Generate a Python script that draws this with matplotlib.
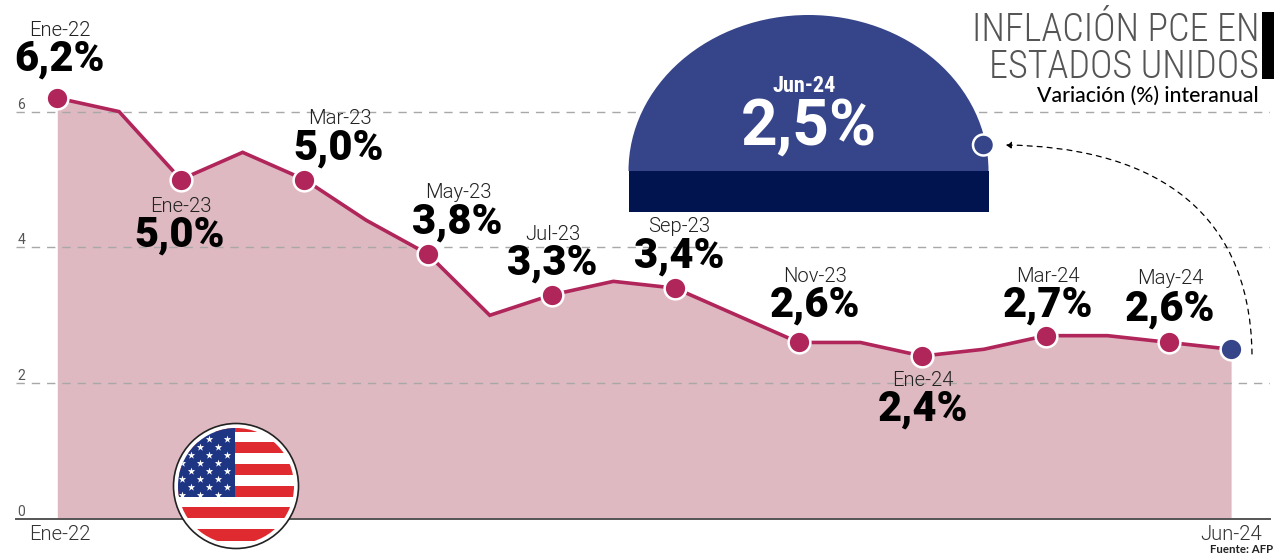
import matplotlib
matplotlib.use("Agg")
import matplotlib.pyplot as plt
from matplotlib.patches import Circle, Ellipse, Rectangle, FancyArrowPatch
from matplotlib.path import Path
from matplotlib.transforms import ScaledTranslation

W, H = 1274, 555
months = list(range(20))
values = [6.2, 6.0, 5.0, 5.4, 5.0, 4.4, 3.9, 3.0, 3.3, 3.5, 3.4, 3.0, 2.6, 2.6, 2.4, 2.5, 2.7, 2.7, 2.6, 2.5]
marked = [0, 2, 4, 6, 8, 10, 12, 14, 16, 18]
marked_dates = ["Ene-22", "Ene-23", "Mar-23", "May-23", "Jul-23", "Sep-23", "Nov-23", "Ene-24", "Mar-24", "May-24"]
marked_labels = ["6,2%", "5,0%", "5,0%", "3,8%", "3,3%", "3,4%", "2,6%", "2,4%", "2,7%", "2,6%"]
y_ticks = [0, 2, 4, 6]
x_ticks = [0, 19]
x_tick_labels = ["Ene-22", "Jun-24"]
last_date, last_label = "Jun-24", "2,5%"

# label centres, pixels
date_pos = [(60, 30), (181, 206), (340, 118), (458, 193), (553, 234), (679, 227), (815, 276), (923, 381), (1048, 276), (1170, 279)]
value_pos = [(59, 59), (180, 235), (339, 148), (457, 222), (552, 263), (679, 256), (815, 305), (923, 409), (1048, 305), (1170, 309)]

RED, FILL, BLUE, NAVY = "#b0255a", "#dfb9c1", "#36458a", "#02144f"
plt.rcParams["font.family"] = ["Roboto", "DejaVu Sans"]

fig = plt.figure(figsize=(W / 100, H / 100), dpi=100, facecolor="white")
L, R, B, T = 16, 1270, 519, 0
ax = fig.add_axes([L / W, 1 - B / H, (R - L) / W, (B - T) / H])
ppx, ppy = 61.78, 67.9
x0 = 57.3
ax.set_xlim((L - x0) / ppx, (R - x0) / ppx)
ax.set_ylim(0, (B - T) / ppy)
ax.fill_between(months, values, 0, color=FILL, lw=0, zorder=1)
ax.plot(months, values, color=RED, lw=2.6, zorder=3, solid_joinstyle="miter")
ax.scatter([months[i] for i in marked], [values[i] for i in marked], s=245, color=RED,
           edgecolor="white", linewidth=1.8, zorder=4, clip_on=False)
ax.scatter([months[19]], [values[19]], s=245, color=BLUE, edgecolor="white", linewidth=1.8, zorder=4)

ax.set_yticks(y_ticks, labels=[str(v) for v in y_ticks])
ax.set_xticks(x_ticks, labels=x_tick_labels)
ax.tick_params(axis="y", length=0, pad=-1, labelsize=10, labelcolor="#555555")
for lab in ax.get_yticklabels():
    lab.set_ha("left"); lab.set_va("bottom")
ax.tick_params(axis="x", length=0, pad=4, labelsize=14.6, labelcolor="#333333")
for lab in ax.get_xticklabels():
    lab.set_fontweight(300)
first_tick = ax.get_xticklabels()[0]
first_tick.set_transform(first_tick.get_transform() + ScaledTranslation(2.7 / 100, 0, fig.dpi_scale_trans))
ax.yaxis.grid(True, color="#a8a8a8", lw=1, ls=(0, (6, 5)), zorder=2)
ax.set_axisbelow(False)
ax.xaxis.grid(False)
for s in ["left", "right", "top"]:
    ax.spines[s].set_visible(False)
ax.spines["bottom"].set_color("#555555")
ax.spines["bottom"].set_linewidth(1.4)
ax.spines["bottom"].set_zorder(2)
ax.patch.set_alpha(0)
ax.yaxis.get_gridlines()[0].set_visible(False)

ov = fig.add_axes([0, 0, 1, 1], zorder=5)
ov.set_xlim(0, W); ov.set_ylim(H, 0); ov.axis("off")
ov.patch.set_alpha(0)

# gauge
clip = Rectangle((620, 0), 380, 171, transform=ov.transData)
dome = Ellipse((808.5, 171), 360, 312, color=BLUE, lw=0, zorder=2)
ov.add_patch(dome); dome.set_clip_path(clip)
ov.add_patch(Rectangle((628.5, 171), 360, 41, color=NAVY, lw=0, zorder=2))
ov.add_patch(Circle((983.5, 145), 10.5, fc=BLUE, ec="white", lw=1.8, zorder=3))
ov.text(804, 86, last_date, color="white", fontsize=16, fontweight="bold", family="Roboto Condensed", ha="center", va="center", zorder=4)
ov.text(809, 145, last_label, color="white", fontsize=46, fontweight="bold", ha="center", va="baseline", zorder=4)

# dashed arrow
arc = Path([(1252, 354), (1250, 200), (1140, 147), (1006, 145)], [Path.MOVETO, Path.CURVE4, Path.CURVE4, Path.CURVE4])
ov.add_patch(FancyArrowPatch(path=arc, arrowstyle="-|>,head_length=3,head_width=2", color="black", lw=0.9,
                             ls=(0, (4, 4)), zorder=3, shrinkA=0, shrinkB=0))

# title
ov.add_patch(Rectangle((1262, 12), 12, 67, color="black", lw=0))
ov.text(1259, 41, "INFLACIÓN PCE EN", fontsize=27.4, fontweight=300, family="Roboto Condensed", color="#555555", ha="right", va="baseline")
ov.text(1259, 78, "ESTADOS UNIDOS", fontsize=27.4, fontweight=300, family="Roboto Condensed", color="#555555", ha="right", va="baseline")
ov.text(1259, 96, "Variación (%) interanual", fontsize=15.3, fontweight="medium", family="Lato", color="black", ha="right", va="center")
ov.text(1273, 549.5, "Fuente: AFP", fontsize=8.3, fontweight="bold", family="Lato", color="#222222", ha="right", va="center")

for (dx, dy), (vx, vy), d, v in zip(date_pos, value_pos, marked_dates, marked_labels):
    ov.text(dx, dy, d, fontsize=14.6, fontweight=300, color="#222222", ha="center", va="center")
    ov.text(vx, vy, v, fontsize=30, fontweight=900, color="black", ha="center", va="center")

# flag
cx, cy = 236, 486
ov.add_patch(Circle((cx, cy), 62.5, fc="white", ec="#222222", lw=1.2, zorder=2))
fc = Circle((cx, cy), 58, transform=ov.transData)
for y0, y1 in [(428, 432), (442, 453), (464, 475), (486, 497), (507, 518), (529, 541)]:
    r = ov.add_patch(Rectangle((170, y0), 130, y1 - y0, color="#df2a30", lw=0, zorder=3))
    r.set_clip_path(fc)
r = ov.add_patch(Rectangle((170, 424), 65, 73, color="#1e3583", lw=0, zorder=4))
r.set_clip_path(fc)
star_x, star_y = [], []
for row, yy in enumerate(range(434, 497, 8)):
    off = 0 if row % 2 == 0 else -9
    for k in range(4):
        star_x.append(227 + off - k * 18); star_y.append(yy + 5 if yy + 5 < 496 else 491)
st = ov.scatter(star_x, star_y, marker="*", s=32, color="white", lw=0, zorder=5)
st.set_clip_path(fc)

fig.savefig("out.png", dpi=100)
